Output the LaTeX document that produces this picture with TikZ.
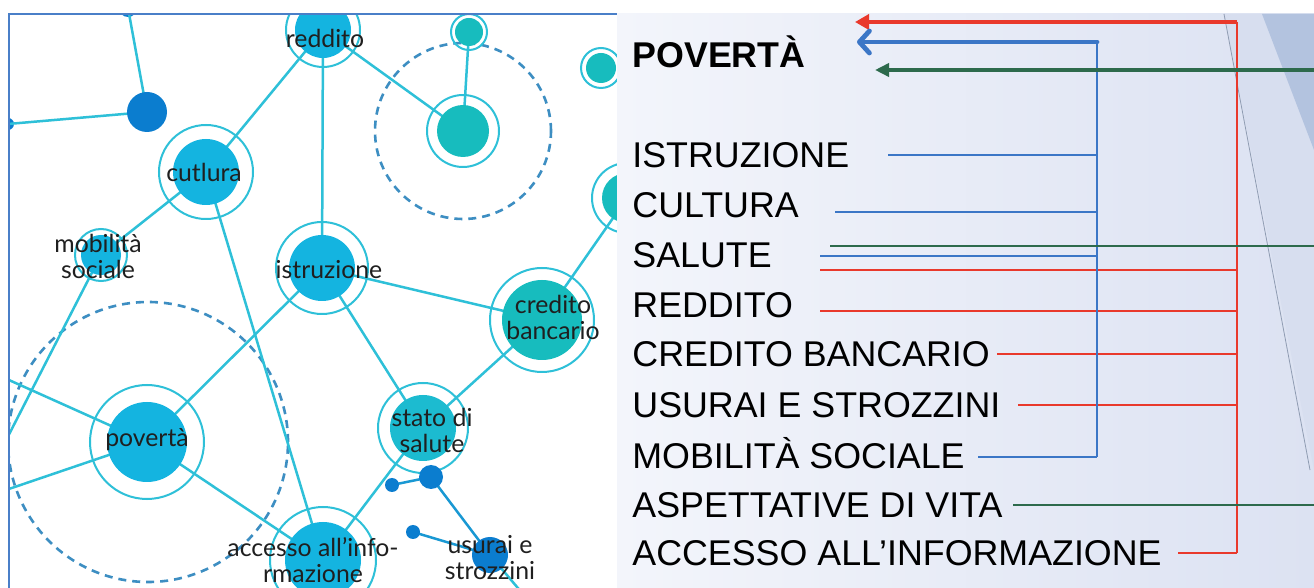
\documentclass[tikz,border=0pt]{standalone}
\usepackage{fontspec}
\setmainfont{Liberation Sans}
\newfontfamily\netfont{Lato}
\usetikzlibrary{arrows.meta}
\definecolor{netcyan}{HTML}{14B4E0}
\definecolor{netteal}{HTML}{17BCBE}
\definecolor{netstato}{HTML}{1CBBD0}
\definecolor{netdark}{HTML}{0B7DCF}
\definecolor{netline}{HTML}{2EC0D8}
\definecolor{netdash}{HTML}{3D8EC2}
\definecolor{framebl}{HTML}{4A7FC8}
\definecolor{arrred}{HTML}{E9392C}
\definecolor{arrblue}{HTML}{3B76C6}
\definecolor{arrgreen}{HTML}{2D6A4C}
\definecolor{panelA}{HTML}{F3F5FB}
\definecolor{panelB}{HTML}{DCE2F2}
\definecolor{panelC}{HTML}{D7DEEF}
\definecolor{facet}{HTML}{B3C3DF}
% slide measures, in pixels
\newcommand{\netxe}{617}
\newcommand{\topy}{14}
\newcommand{\redbus}{1237}
\newcommand{\bluebus}{1097}
\newcommand{\rightx}{1314}
% plain dot and dot with a ring
\newcommand{\blob}[4]{\node[core, fill=#4, minimum size={#3*1pt}] (#1) at (#2) {};}
\newcommand{\hub}[5]{%
  \blob{#1}{#2}{#3}{#5}
  \draw[ring] (#1) circle[radius={#4*0.5pt}];
}
\tikzset{
  core/.style={circle, inner sep=0pt, outer sep=0pt, draw=none},
  ring/.style={draw=netline, line width=1pt},
  edge/.style={draw=netline, line width=1.25pt},
  halo/.style={draw=netdash, line width=1.3pt, dash pattern=on 4pt off 3pt},
  hublbl/.style={font=\netfont\fontsize{12.4}{13}\selectfont, text=black!88,
    align=center, inner sep=0pt},
  item/.style={font=\fontsize{17.9}{20}\selectfont, anchor=base west, inner sep=0pt},
  bus/.style={line width=1.1pt},
  feed/.style={line width=2.4pt},
}
\begin{document}
\begin{tikzpicture}[x=0.5pt, y=-0.5pt]
  \useasboundingbox (0,0) rectangle (\rightx,588);
  \fill[white] (0,0) rectangle (\rightx,588);

  % network half
  \begin{scope}
    \clip (9,\topy) rectangle (\netxe,588);
    \blob{topdot}{128,8}{9}{netdark}
    \blob{leftdot}{8,124}{6}{netdark}
    \coordinate (offA) at (0,376);
    \coordinate (offB) at (0,492);
    \coordinate (offC) at (0,452);
    \coordinate (offD) at (528,600);
    % dashed halos
    \draw[halo] (463,131) circle[radius=44pt];
    \draw[halo] (148,442) circle[radius=70pt];
    % links (drawn under the dots)
    \draw[edge] (147,112) -- (128,8);
    \draw[edge] (147,112) -- (8,124);
    \draw[edge] (206,172) -- (323,30);
    \draw[edge] (206,172) -- (101,255);
    \draw[edge] (206,172) -- (323,560);
    \draw[edge] (323,30) -- (322,268);
    \draw[edge] (323,30) -- (463,131);
    \draw[edge] (469,32) -- (463,131);
    \draw[edge] (627,198) -- (542,320);
    \draw[edge] (322,268) -- (147,442);
    \draw[edge] (322,268) -- (542,320);
    \draw[edge] (322,268) -- (423,428);
    \draw[edge] (542,320) -- (423,428);
    \draw[edge] (423,428) -- (323,560);
    \draw[edge] (147,442) -- (323,560);
    \draw[edge] (147,442) -- (offA);
    \draw[edge] (147,442) -- (offB);
    \draw[edge] (101,255) -- (offC);
    \draw[edge, draw=netdark!60!netline] (431,477) -- (392,485);
    \draw[edge, draw=netdark!60!netline] (431,477) -- (490,555);
    \draw[edge, draw=netdark!60!netline] (490,555) -- (413,532);
    \draw[edge] (490,555) -- (offD);
    % dots
    \blob{darkA}{147,112}{20}{netdark}
    \hub{cutl}{206,172}{33}{47}{netcyan}
    \hub{redd}{323,30}{28}{37}{netcyan}
    \hub{istr}{322,268}{33}{46}{netcyan}
    \hub{mob}{101,255}{20}{26}{netcyan}
    \hub{pov}{147,442}{40}{57}{netcyan}
    \hub{acc}{323,560}{38}{53}{netcyan}
    \hub{tealA}{463,131}{26}{36}{netteal}
    \hub{tealS}{469,32}{14}{18}{netteal}
    \hub{tealR}{601,68}{15}{20}{netteal}
    \hub{tealM}{627,198}{25}{35}{netteal}
    \hub{cred}{542,320}{40}{52}{netteal}
    \hub{stato}{423,428}{33}{45}{netstato}
    \blob{dotB}{431,477}{12}{netdark}
    \blob{dotS1}{392,485}{7}{netdark}
    \blob{dotS2}{413,532}{7}{netdark}
    \blob{usur}{490,555}{18}{netdark}
    % labels
    \node[hublbl] (cutl-t) at (204,172) {cutlura};
    \node[hublbl] (redd-t) at (325,38) {reddito};
    \node[hublbl] (istr-t) at (329,270) {istruzione};
    \node[hublbl] (mob-t) at (98,256) {mobilità\\sociale};
    \node[hublbl] (pov-t) at (147,440) {povertà};
    \node[hublbl] (cred-t) at (553,317) {credito\\bancario};
    \node[hublbl] (stato-t) at (432,430) {stato di\\salute};
    \node[hublbl] (acc-t) at (313,560) {accesso all’info-\\rmazione};
    \node[hublbl] (usur-t) at (490,558) {usurai e\\strozzini};
  \end{scope}
  % frame of the network half
  \draw[framebl, line width=1pt] (620,\topy) -- (9,\topy) -- (9,588);

  % slide half
  \shade[left color=panelA, right color=panelB] (\netxe,\topy) rectangle (\rightx,588);
  \begin{scope}
    \clip (\netxe,\topy) rectangle (\rightx,588);
    \fill[panelC] (1224,\topy) -- (\rightx,\topy) -- (\rightx,470) -- cycle;
    \fill[facet] (1262,\topy) -- (\rightx,\topy) -- (\rightx,150) -- cycle;
    \draw[facet!80!black, line width=0.4pt] (1224,\topy) -- (1310,470);
  \end{scope}

  \node[item] (povh) at (632,68) {\bfseries POVERTÀ};
  \node[item] (l-istr) at (632,168) {ISTRUZIONE};
  \node[item] (l-cult) at (632,218) {CULTURA};
  \node[item] (l-sal) at (632,268) {SALUTE};
  \node[item] (l-redd) at (632,318) {REDDITO};
  \node[item] (l-cred) at (632,367) {CREDITO BANCARIO};
  \node[item] (l-usur) at (632,418) {USURAI E STROZZINI};
  \node[item] (l-mob) at (632,469) {MOBILITÀ SOCIALE};
  \node[item] (l-asp) at (632,518) {ASPETTATIVE DI VITA};
  \node[item] (l-acc) at (632,566) {ACCESSO ALL’INFORMAZIONE};

  % bus tops and arrow tips
  \coordinate (rbus) at (\redbus,22);
  \coordinate (bbus) at (\bluebus,42);
  \coordinate (gsrc) at (\rightx,70);
  \coordinate (rtip) at (855,22);
  \coordinate (btip) at (857,42);
  \coordinate (gtip) at (875,70);
  % where the wires leave the words
  \coordinate (s-istr) at (888,155);
  \coordinate (s-cult) at (835,212);
  \coordinate (s-salg) at (830,246);
  \coordinate (s-salb) at (820,256);
  \coordinate (s-salr) at (820,270);
  \coordinate (s-redd) at (820,311);
  \coordinate (s-cred) at (997,354);
  \coordinate (s-usur) at (1018,405);
  \coordinate (s-mob) at (978,457);
  \coordinate (s-asp) at (1013,505);
  \coordinate (s-acc) at (1178,553);

  % red group
  \draw[bus, arrred] (rbus) -- (rbus |- s-acc);
  \draw[bus, arrred] (s-salr) -- (s-salr -| rbus);
  \draw[bus, arrred] (s-redd) -- (s-redd -| rbus);
  \draw[bus, arrred] (s-cred) -- (s-cred -| rbus);
  \draw[bus, arrred] (s-usur) -- (s-usur -| rbus);
  \draw[bus, arrred] (s-acc) -- (s-acc -| rbus);
  \draw[feed, arrred, -{Triangle[length=7pt, width=7.5pt]}] (rbus) -- (rtip);
  % blue group
  \draw[bus, arrblue] (bbus) -- (bbus |- s-mob);
  \draw[bus, arrblue] (s-istr) -- (s-istr -| bbus);
  \draw[bus, arrblue] (s-cult) -- (s-cult -| bbus);
  \draw[bus, arrblue] (s-salb) -- (s-salb -| bbus);
  \draw[bus, arrblue] (s-mob) -- (s-mob -| bbus);
  \draw[feed, arrblue, line cap=round, -{Straight Barb[length=5pt, width=11pt, round]}] (bbus) -- (btip);
  % green group
  \draw[bus, arrgreen] (s-salg) -- (s-salg -| gsrc);
  \draw[bus, arrgreen] (s-asp) -- (s-asp -| gsrc);
  \draw[feed, arrgreen, -{Triangle[length=7pt, width=6.5pt]}] (gsrc) -- (gtip);
\end{tikzpicture}
\end{document}
